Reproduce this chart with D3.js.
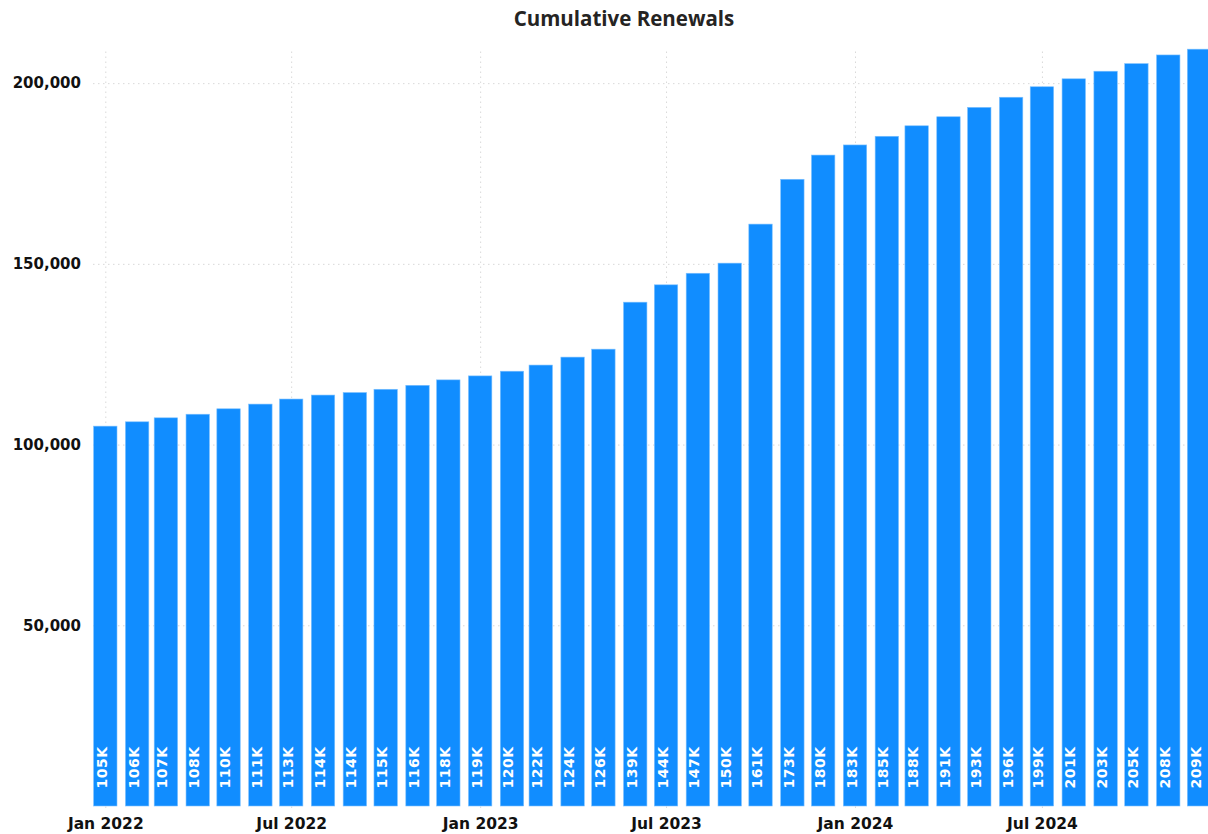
<!DOCTYPE html>
<html>
<head>
<meta charset="utf-8">
<script src="https://cdn.jsdelivr.net/npm/d3@7"></script>
<style>
  html, body { margin: 0; padding: 0; background: #fff; }
  svg { display: block; }
</style>
</head>
<body>
<svg id="chart" width="1208" height="834"></svg>
<script>
// ---- Data ----
const months = [
  "2022-01","2022-02","2022-03","2022-04","2022-05","2022-06",
  "2022-07","2022-08","2022-09","2022-10","2022-11","2022-12",
  "2023-01","2023-02","2023-03","2023-04","2023-05","2023-06",
  "2023-07","2023-08","2023-09","2023-10","2023-11","2023-12",
  "2024-01","2024-02","2024-03","2024-04","2024-05","2024-06",
  "2024-07","2024-08","2024-09","2024-10","2024-11","2024-12"
];
const renewals = [
  105100, 106300, 107400, 108400, 109900, 111200,
  112600, 113700, 114400, 115300, 116400, 117900,
  119000, 120300, 122000, 124200, 126400, 139400,
  144200, 147400, 150200, 161000, 173400, 180100,
  182900, 185300, 188200, 190700, 193300, 196100,
  199000, 201200, 203300, 205400, 207800, 209400
];
const yTicks = [50000, 100000, 150000, 200000];
const xTickMonths = ["2022-01","2022-07","2023-01","2023-07","2024-01","2024-07"];
const title = "Cumulative Renewals";

// ---- Chart ----
const W = 1208, H = 834;
const svg = d3.select("#chart");
const parse = d3.utcParse("%Y-%m");
const data = months.map((m, i) => ({ date: parse(m), value: renewals[i] }));

const x0 = 105.3, pxPerDay = 1.027;
const d0 = parse("2022-01"), d1 = parse("2024-12");
const x = d3.scaleUtc()
  .domain([d0, d1])
  .range([x0, x0 + pxPerDay * (d1 - d0) / 864e5]);
const y = d3.scaleLinear().domain([0, 210000]).range([806, 47]);
const barW = 23.4;

const grid = "#d9d9d9";

// horizontal gridlines
const yAxis = d3.axisLeft(y).tickValues(yTicks).tickFormat(d3.format(","))
  .tickSize(-(W - 93)).tickPadding(12);
const gy = svg.append("g").attr("transform", "translate(93,0)").call(yAxis);
gy.select(".domain").remove();
gy.selectAll(".tick line").attr("stroke", grid).attr("stroke-dasharray", "1.5,3.5");
gy.selectAll(".tick text")
  .attr("font-family", "DejaVu Sans").attr("font-weight", "bold")
  .attr("font-size", 15).attr("fill", "#111");

// vertical gridlines + x labels
const xAxis = d3.axisBottom(x).tickValues(xTickMonths.map(parse))
  .tickFormat(d3.utcFormat("%b %Y")).tickSize(-(806 - 48)).tickPadding(10);
const gx = svg.append("g").attr("transform", "translate(0,808)").call(xAxis);
gx.select(".domain").remove();
gx.selectAll(".tick line").attr("stroke", grid).attr("stroke-dasharray", "1.5,3.5");
gx.selectAll(".tick text")
  .attr("font-family", "DejaVu Sans").attr("font-weight", "bold")
  .attr("font-size", 15.5).attr("fill", "#111");

// bars
svg.append("g").selectAll("rect").data(data).join("rect")
  .attr("x", d => x(d.date) - barW / 2)
  .attr("width", barW)
  .attr("y", d => y(d.value))
  .attr("height", d => y(0) - y(d.value))
  .attr("fill", "#118DFF")
  .attr("stroke", "#7cc0ff").attr("stroke-width", 0.6);

// bar labels
svg.append("g").selectAll("text").data(data).join("text")
  .attr("transform", d => `translate(${x(d.date)},788.5) rotate(-90)`)
  .attr("dy", "1.5")
  .attr("text-anchor", "start")
  .attr("font-family", "DejaVu Sans").attr("font-weight", "bold")
  .attr("font-size", 14).attr("letter-spacing", 0.5).attr("fill", "#fff")
  .text(d => Math.round(d.value / 1000) + "K");

// title
svg.append("text")
  .attr("x", 624).attr("y", 26)
  .attr("text-anchor", "middle")
  .attr("font-family", "Open Sans").attr("font-weight", 700)
  .attr("font-size", 20.5).attr("fill", "#252423")
  .text(title);
</script>
</body>
</html>
